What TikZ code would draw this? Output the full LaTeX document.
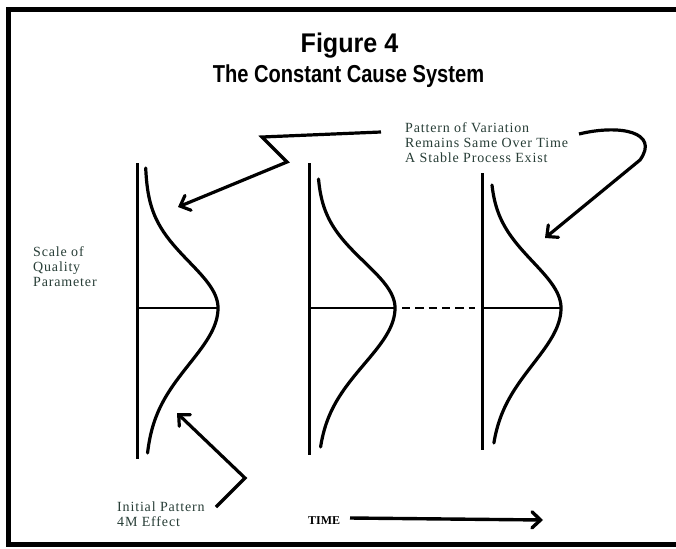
\documentclass[tikz,border=0pt]{standalone}
\usepackage{fontspec}
\usepackage{graphicx}
\setmainfont{Liberation Serif}
\newfontfamily\titlefont{Liberation Sans}
\newfontfamily\labelfont[LetterSpace=6]{Liberation Serif}
\usetikzlibrary{arrows.meta}
\definecolor{labelcol}{RGB}{40,62,55}
\tikzset{
  frameline/.style={line width=5pt, line join=miter},
  axisline/.style={line width=3pt},
  curveline/.style={line width=3.2pt, line join=round, line cap=round},
  meanline/.style={line width=2.4pt},
  dashmean/.style={line width=2.4pt, dash pattern=on 8.3pt off 5pt},
  pointer/.style={line width=3.2pt, line join=miter, -{Straight Barb[length=8.5pt,width=16pt,line cap=round]}},
  lbl/.style={inner sep=0pt, text=labelcol, font=\labelfont\fontsize{14}{15}\selectfont, align=left},
}
\begin{document}
\begin{tikzpicture}[x=1pt,y=-1pt]
\useasboundingbox (0,0) rectangle (676,548);
\fill[white] (0,0) rectangle (676,548);
% frame (no right side)
\draw[frameline] (676,10) -- (8,10) -- (8,544) -- (676,544);
% titles
\node[anchor=base, inner sep=0pt, font=\titlefont\bfseries\fontsize{27}{30}\selectfont] (fig) at (349.5,53) {\scalebox{0.93}[1]{Figure 4}};
\node[anchor=base, inner sep=0pt, font=\titlefont\bfseries\fontsize{24.5}{28}\selectfont] (sub) at (348.5,83) {\scalebox{0.82}[1]{The Constant Cause System}};
% axes
\draw[axisline] (137,163) -- (137,459);
\draw[axisline] (309,163) -- (309,455);
\draw[axisline] (482,173) -- (482,450);
% bell curves
\foreach \xo/\tp/\bt/\A in {137/168/453/73, 309/179/447/78, 482/185/443/71}{
  \draw[curveline] plot[domain={\tp-308}:0, samples=60, variable=\u]
      ({\xo+8+\A*exp(-0.5*(\u/46)*(\u/46))},{308+\u})
    -- plot[domain=0:{\bt-308}, samples=60, variable=\u]
      ({\xo+8+\A*exp(-0.5*(\u/56)*(\u/56))},{308+\u});
}
% mean lines
\draw[meanline] (137,308) -- (218,308);
\draw[meanline] (309,308) -- (395,308);
\draw[dashmean] (402,308) -- (475,308);
\draw[meanline] (482,308) -- (561,308);
% labels (base anchor = baseline of last line)
\node[lbl, anchor=base west] (pat) at (405,162.5) {Pattern of Variation\\Remains Same Over Time\\A Stable Process Exist};
\node[lbl, anchor=base west] (scale) at (33,286.5) {Scale of\\Quality\\Parameter};
\node[lbl, anchor=base west] (init) at (117,526.5) {Initial Pattern\\4M Effect};
\node[inner sep=0pt, anchor=base west, font=\bfseries\fontsize{12}{14}\selectfont] (time) at (308,524) {TIME};
% arrow anchor points
\coordinate (a1s) at (381,132);
\coordinate (a1t) at (178,207);
\coordinate (a2s) at (579,134);
\coordinate (a2t) at (545,238);
\coordinate (a3s) at (216,507);
\coordinate (a3t) at (177,413);
\coordinate (tStart) at (350,518);
\coordinate (tEnd) at (543,520);
% arrows
\draw[pointer] (a1s) -- (262,137) -- (287,162) -- (a1t);
\draw[pointer] (a2s) .. controls (620,124) and (660,132) .. (640,160) -- (a2t);
\draw[pointer] (a3s) -- (245,478) -- (a3t);
\draw[pointer, line width=3.4pt] (tStart) -- (tEnd);
\end{tikzpicture}
\end{document}
